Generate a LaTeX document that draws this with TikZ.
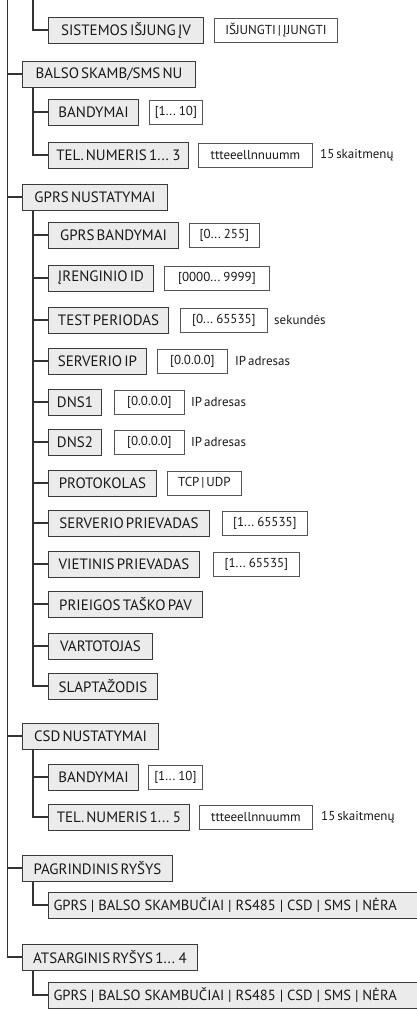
\documentclass[tikz,border=0pt]{standalone}
\usepackage{fontspec}
\setmainfont{PT Sans}[WordSpace=0.55]
\newfontfamily\fullsp{PT Sans}
\definecolor{lblfill}{HTML}{EBEBEB}
\definecolor{lbldraw}{HTML}{3A3A3A}
\definecolor{valdraw}{HTML}{555555}
\definecolor{linec}{HTML}{333333}
\begin{document}
\begin{tikzpicture}[x=1pt,y=-1pt,
  lbl/.style={draw=lbldraw,fill=lblfill,line width=1pt,anchor=west,minimum height=26pt,inner xsep=0pt,inner ysep=0pt,font=\fontsize{15}{17}\selectfont,text=black!90},
  val/.style={draw=valdraw,fill=white,line width=0.8pt,anchor=west,minimum height=24pt,inner xsep=0pt,inner ysep=0pt,font=\fontsize{13}{15}\selectfont,text=black!90},
  note/.style={anchor=west,inner sep=0pt,font=\fontsize{13}{15}\selectfont,text=black!90},
  wide/.style={lbl,inner xsep=5pt,font=\fullsp\fontsize{14.6}{17}\selectfont},
  conn/.style={draw=linec,line width=1.3pt}]
\useasboundingbox (0,0) rectangle (416,1009);
\coordinate (t1) at (7.5,0);
\coordinate (t2) at (33,0);
% level 1
\node[lbl,minimum width=173pt] (balso) at (22,74) {BALSO SKAMB/SMS NU};
\node[lbl,minimum width=145pt] (gprs) at (22,197) {GPRS NUSTATYMAI};
\node[lbl,minimum width=136pt] (csd) at (22,736) {CSD NUSTATYMAI};
\node[lbl,minimum width=150pt] (pagr) at (22,868) {PAGRINDINIS RYŠYS};
\node[lbl,minimum width=175pt] (ats) at (22,957) {ATSARGINIS RYŠYS 1... 4};
% level 2
\node[lbl,minimum width=155pt] (sist) at (48,30) {SISTEMOS IŠJUNG ĮV};
\node[val,minimum width=123pt] (sistv) at (214,30) {IŠJUNGTI | ĮJUNGTI};
\node[lbl,minimum width=90pt] (band1) at (48,112) {BANDYMAI};
\node[val,minimum width=53pt] (band1v) at (149,112) {[1... 10]};
\node[lbl,minimum width=140pt] (tel3) at (48,155) {TEL. NUMERIS 1... 3};
\node[val,minimum width=114pt] (tel3v) at (198,155) {ttteeellnnuumm};
\node[note] (tel3n) at (320,155) {15 skaitmenų};
\node[lbl,minimum width=130pt] (gband) at (48,235) {GPRS BANDYMAI};
\node[val,minimum width=70pt] (gbandv) at (189,235) {[0... 255]};
\node[lbl,minimum width=105pt] (ireng) at (48,278) {ĮRENGINIO ID};
\node[val,minimum width=105pt] (irengv) at (164,278) {[0000... 9999]};
\node[lbl,minimum width=120pt] (test) at (48,320) {TEST PERIODAS};
\node[val,minimum width=87pt] (testv) at (180,320) {[0... 65535]};
\node[note] (testn) at (274,320) {sekundės};
\node[lbl,minimum width=98pt] (servip) at (48,361) {SERVERIO IP};
\node[val,minimum width=70pt] (servipv) at (157,361) {[0.0.0.0]};
\node[note] (servipn) at (235,361) {IP adresas};
\node[lbl,minimum width=53pt] (dns1) at (48,402) {DNS1};
\node[val,minimum width=70pt] (dns1v) at (114,402) {[0.0.0.0]};
\node[note] (dns1n) at (191,402) {IP adresas};
\node[lbl,minimum width=53pt] (dns2) at (48,442) {DNS2};
\node[val,minimum width=70pt] (dns2v) at (114,442) {[0.0.0.0]};
\node[note] (dns2n) at (191,442) {IP adresas};
\node[lbl,minimum width=108pt] (proto) at (48,483) {PROTOKOLAS};
\node[val,minimum width=74pt] (protov) at (167,483) {TCP | UDP};
\node[lbl,minimum width=161pt] (sprv) at (48,523) {SERVERIO PRIEVADAS};
\node[val,minimum width=85pt] (sprvv) at (222,523) {[1... 65535]};
\node[lbl,minimum width=151pt] (vprv) at (48,564) {VIETINIS PRIEVADAS};
\node[val,minimum width=86pt] (vprvv) at (213,564) {[1... 65535]};
\node[lbl,minimum width=154pt] (prie) at (48,604) {PRIEIGOS TAŠKO PAV};
\node[lbl,minimum width=104pt] (vart) at (48,646) {VARTOTOJAS};
\node[lbl,minimum width=109pt] (slap) at (48,686) {SLAPTAŽODIS};
\node[lbl,minimum width=90pt] (band2) at (48,777) {BANDYMAI};
\node[val,minimum width=54pt] (band2v) at (148,777) {[1... 10]};
\node[lbl,minimum width=141pt] (tel5) at (48,817) {TEL. NUMERIS 1... 5};
\node[val,minimum width=113pt] (tel5v) at (199,817) {ttteeellnnuumm};
\node[note] (tel5n) at (321,817) {15 skaitmenų};
\node[wide] (conn1) at (48,905) {\makebox[370pt][l]{GPRS | BALSO SKAMBUČIAI | RS485 | CSD | SMS | NĖRA}};
\node[wide] (conn2) at (48,995) {\makebox[370pt][l]{GPRS | BALSO SKAMBUČIAI | RS485 | CSD | SMS | NĖRA}};
% connectors
\foreach \n in {balso,gprs,csd,pagr,ats} \draw[conn] (t1) |- (\n.west);
\draw[conn] (t2) |- (sist.west);
\foreach \n in {band1,tel3} \draw[conn] ([xshift=11pt]balso.south west) |- (\n.west);
\foreach \n in {gband,ireng,test,servip,dns1,dns2,proto,sprv,vprv,prie,vart,slap} \draw[conn] ([xshift=11pt]gprs.south west) |- (\n.west);
\foreach \n in {band2,tel5} \draw[conn] ([xshift=11pt]csd.south west) |- (\n.west);
\draw[conn] ([xshift=11pt]pagr.south west) |- (conn1.west);
\draw[conn] ([xshift=11pt]ats.south west) |- (conn2.west);
\end{tikzpicture}
\end{document}
